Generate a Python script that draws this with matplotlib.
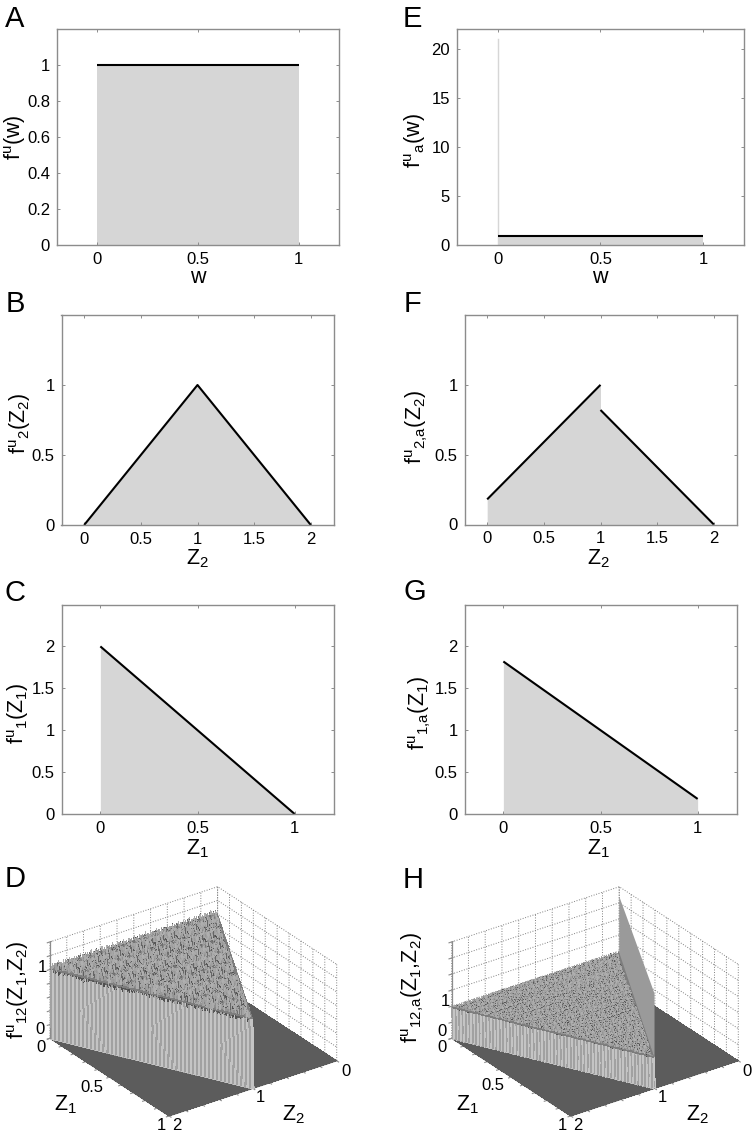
import numpy as np

import matplotlib
matplotlib.use("Agg")
import matplotlib.pyplot as plt
from mpl_toolkits.mplot3d import proj3d

plt.rcParams["font.family"] = ["Liberation Sans", "DejaVu Sans"]
plt.rcParams["mathtext.fontset"] = "custom"
plt.rcParams["mathtext.rm"] = "Liberation Sans"
plt.rcParams["mathtext.default"] = "regular"

W, H = 755, 1135
AXIS_GRAY = "#8c8c8c"
FILL_GRAY = "#d6d6d6"

# panel A / E
A_X = [0, 1]
A_Y = [1, 1]
A_YTICKS = [0, 0.2, 0.4, 0.6, 0.8, 1]
E_X = [0, 1]
E_Y = [0.95, 0.95]
E_SPIKE_X = [0, 0]
E_SPIKE_Y = [0, 21]
E_YTICKS = [0, 5, 10, 15, 20]
# panel B / F
B_X = [0, 1, 2]
B_Y = [0, 1, 0]
F_LEFT_X = [0, 1]
F_LEFT_Y = [0.18, 1]
F_RIGHT_X = [1, 2]
F_RIGHT_Y = [0.82, 0]
Z2_TICKS = [0, 0.5, 1, 1.5, 2]
B_YTICKS = [0, 0.5, 1]
# panel C / G
C_X = [0, 1]
C_Y = [2, 0]
G_X = [0, 1]
G_Y = [1.82, 0.18]
W_TICKS = [0, 0.5, 1]
C_YTICKS = [0, 0.5, 1, 1.5, 2]

# 3D panels: support of the density as an upper edge Z1(Z2)
EDGE_Z2 = [0, 1, 2]
EDGE_Z1 = [0, 1, 0]
D_LEVEL = 1.0
H_LEVEL = 0.95
# ridge of H along Z1 = Z2
RIDGE_Z1 = [0, 1]
RIDGE_Z2 = [0, 1]
RIDGE_TOP = [2.7, 2.95]
D_BUMP_SCALE = 0.7
H_BUMP_SCALE = 0.5
# bins per axis (Z1, Z2)
D_CELLS = (100, 200)
H_CELLS = (120, 240)
# the histogram noise can't be read bin by bin, so this patch of bumps
# estimated from the zoomed picture is repeated over the plateau
BUMPS = [
    [0.06, -0.09, 0.11, -0.03, -0.12, 0.08, 0.02, -0.07, 0.13, -0.05, 0.04, -0.11, 0.09],
    [-0.10, 0.03, -0.06, 0.12, 0.05, -0.08, 0.10, -0.02, -0.12, 0.07, -0.04, 0.11, -0.07],
    [0.09, -0.04, 0.07, -0.11, 0.02, 0.13, -0.09, 0.05, 0.01, -0.10, 0.12, -0.03, 0.04],
    [-0.02, 0.12, -0.08, 0.04, -0.06, -0.11, 0.07, 0.11, -0.05, 0.03, -0.09, 0.08, -0.12],
    [0.11, -0.07, 0.01, 0.09, -0.13, 0.06, -0.03, -0.10, 0.12, -0.01, 0.07, -0.06, 0.03],
    [-0.05, 0.08, -0.12, 0.02, 0.10, -0.04, 0.13, -0.07, 0.04, 0.09, -0.11, 0.02, 0.10],
    [0.03, -0.11, 0.10, -0.06, 0.07, 0.01, -0.10, 0.09, -0.08, 0.05, 0.13, -0.09, -0.02],
    [-0.08, 0.05, 0.02, 0.13, -0.09, 0.11, -0.05, 0.03, 0.08, -0.12, -0.01, 0.06, 0.11],
    [0.12, -0.01, -0.10, 0.06, -0.04, -0.07, 0.09, -0.12, 0.02, 0.10, -0.06, 0.13, -0.08],
    [-0.06, 0.10, 0.05, -0.09, 0.12, 0.03, -0.11, 0.07, -0.03, -0.08, 0.11, -0.04, 0.01],
    [0.01, -0.12, 0.08, 0.03, -0.07, 0.10, 0.05, -0.09, 0.11, 0.02, -0.10, 0.09, -0.05],
]
Z1_TICKS_3D = [0, 0.1, 0.2, 0.3, 0.4, 0.5, 0.6, 0.7, 0.8, 0.9, 1]
Z2_TICKS_3D = [0, 0.2, 0.4, 0.6, 0.8, 1, 1.2, 1.4, 1.6, 1.8, 2]
D_ZTICKS = [0, 0.2, 0.4, 0.6, 0.8, 1, 1.2, 1.4]
H_ZTICKS = [0, 0.5, 1, 1.5, 2, 2.5, 3]

FLOOR_GRAY = 0.36
PLATEAU_GRAY = 0.49
WALL_GRAYS = (0.63, 0.77)

fig = plt.figure(figsize=(W / 100, H / 100), dpi=100)


def put(x, y, s, size=11, **kw):
    kw.setdefault("ha", "center")
    kw.setdefault("va", "center")
    fig.text(x / W, 1 - y / H, s, fontsize=size, **kw)


def flat_axes(box, xlim, ylim, xticks, yticks):
    l, t, r, b = box
    ax = fig.add_axes([l / W, 1 - b / H, (r - l) / W, (b - t) / H])
    ax.set_xlim(xlim)
    ax.set_ylim(ylim)
    ax.set_xticks(xticks, [f"{v:g}" for v in xticks])
    ax.set_yticks(yticks, [f"{v:g}" for v in yticks])
    ax.tick_params(direction="in", length=2, width=0.7, color=AXIS_GRAY,
                   top=True, right=True, labelsize=12, pad=5)
    for s in ax.spines.values():
        s.set_color(AXIS_GRAY)
        s.set_linewidth(1.0)
    return ax


def black(ax, x, y):
    ax.plot(x, y, color="k", lw=1.5, solid_capstyle="butt")


def density_grid(cells, level, scale):
    z1 = np.linspace(0, 1, cells[0] + 1)
    z2 = np.linspace(0, 2, cells[1] + 1)
    zz2, zz1 = np.meshgrid(z2, z1)
    edge = np.interp(zz2, EDGE_Z2, EDGE_Z1)
    inside = zz1 <= edge + 1e-9
    bumps = np.array(BUMPS)
    n_rows, n_cols = bumps.shape
    rows, cols = np.indices(zz1.shape)
    # each repeat of the patch is set 5 columns over, brick style
    tile = bumps[rows % n_rows, (cols + 5 * (rows // n_rows)) % n_cols]
    # no bumps on the last bins before the wall, its top stays clean
    tile = np.where(edge - zz1 < 3 / cells[0], 0.0, tile)
    height = np.where(inside, level + scale * tile, 0.0)

    # cell colours: floor, striped wall in two greys, speckled plateau
    n_in = (inside[:-1, :-1].astype(int) + inside[1:, :-1] + inside[:-1, 1:] + inside[1:, 1:])
    gray = np.full(n_in.shape, FLOOR_GRAY)
    gray[n_in == 4] = PLATEAU_GRAY + 1.5 * tile[:-1, :-1][n_in == 4]
    wall = (n_in > 0) & (n_in < 4)
    gray[wall] = np.where(rows[:-1, :-1][wall] % 2 == 0, WALL_GRAYS[0], WALL_GRAYS[1])
    colors = np.dstack([gray, gray, gray, np.ones_like(gray)])
    return zz1, zz2, height, colors


def surface_axes(zz1, zz2, height, colors, zticks, corners):
    ax = fig.add_axes([0.1, 0.1, 0.5, 0.5 * W / H], projection="3d",
                      computed_zorder=False)
    ax.patch.set_visible(False)
    ax.set_proj_type("ortho")
    ax.view_init(elev=27.6, azim=54.6)
    ax.set_xlim(0, 2, view_margin=0)
    ax.set_ylim(0, 1, view_margin=0)
    ax.set_zlim(zticks[0], zticks[-1], view_margin=0)
    aspect = (1, 1, 109 / 206)
    ax.set_box_aspect(aspect, zoom=1)
    ax.plot_surface(zz2, zz1, height, rstride=1, cstride=1, facecolors=colors,
                    linewidth=0, antialiased=False, shade=False, zorder=2)
    ax.set_xticks(Z2_TICKS_3D, [""] * len(Z2_TICKS_3D))
    ax.set_yticks(Z1_TICKS_3D, [""] * len(Z1_TICKS_3D))
    ax.set_zticks(zticks, [""] * len(zticks))
    ax.tick_params(color=AXIS_GRAY, width=0.7)
    for axis in (ax.xaxis, ax.yaxis, ax.zaxis):
        axis.set_pane_color((1, 1, 1, 0))
        axis.pane.set_edgecolor("none")
        axis.line.set_color(AXIS_GRAY)
        axis.line.set_linewidth(0.9)
        axis._axinfo["grid"].update(color="0.5", linestyle=":", linewidth=0.7)

    # scale and shift the box so its floor lands on the corners in the picture
    def floor_px(z1, z2):
        x, y, _ = proj3d.proj_transform(z2, z1, 0, ax.get_proj())
        return ax.transData.transform((x, y))

    fig.canvas.draw()
    span = floor_px(1, 0)[0] - floor_px(0, 2)[0]
    ax.set_box_aspect(aspect, zoom=(corners[2] - corners[0]) / span)
    fig.canvas.draw()
    p = floor_px(0, 2)
    pos = ax.get_position()
    ax.set_position([pos.x0 + (corners[0] - p[0]) / W,
                     pos.y0 + ((H - corners[1]) - p[1]) / H,
                     pos.width, pos.height])
    return ax


# A
ax = flat_axes((57, 29, 339, 245), (-0.2, 1.2), (0, 1.2), W_TICKS, A_YTICKS)
ax.fill_between(A_X, A_Y, color=FILL_GRAY, linewidth=0)
black(ax, A_X, A_Y)
# B
ax = flat_axes((61.5, 315, 333.5, 525), (-0.2, 2.2), (0, 1.5), Z2_TICKS, B_YTICKS)
ax.fill_between(B_X, B_Y, color=FILL_GRAY, linewidth=0)
black(ax, B_X, B_Y)
# C
ax = flat_axes((61.5, 604.5, 333.5, 814), (-0.2, 1.2), (0, 2.5), W_TICKS, C_YTICKS)
ax.fill_between(C_X, C_Y, color=FILL_GRAY, linewidth=0)
black(ax, C_X, C_Y)
# E
ax = flat_axes((457, 29, 744, 245), (-0.2, 1.2), (0, 22), W_TICKS, E_YTICKS)
ax.fill_between(E_X, E_Y, color=FILL_GRAY, linewidth=0)
ax.plot(E_SPIKE_X, E_SPIKE_Y, color=FILL_GRAY, lw=1.0)
black(ax, E_X, E_Y)
# F
ax = flat_axes((464.5, 315, 736.5, 524.5), (-0.2, 2.2), (0, 1.5), Z2_TICKS, B_YTICKS)
ax.fill_between(F_LEFT_X, F_LEFT_Y, color=FILL_GRAY, linewidth=0)
ax.fill_between(F_RIGHT_X, F_RIGHT_Y, color=FILL_GRAY, linewidth=0)
black(ax, F_LEFT_X, F_LEFT_Y)
black(ax, F_RIGHT_X, F_RIGHT_Y)
# G
ax = flat_axes((464.5, 604.5, 736.5, 814), (-0.2, 1.2), (0, 2.5), W_TICKS, C_YTICKS)
ax.fill_between(G_X, G_Y, color=FILL_GRAY, linewidth=0)
black(ax, G_X, G_Y)

# D
zz1, zz2, height, colors = density_grid(D_CELLS, D_LEVEL, D_BUMP_SCALE)
surface_axes(zz1, zz2, height, colors, D_ZTICKS, (50, 1038.3, 336.7))
# H, the part of the ridge above the plateau goes on top
zz1, zz2, height, colors = density_grid(H_CELLS, H_LEVEL, H_BUMP_SCALE)
ax = surface_axes(zz1, zz2, height, colors, H_ZTICKS, (451.7, 1038.3, 738.3))
ax.plot_surface(np.array([RIDGE_Z2, RIDGE_Z2]), np.array([RIDGE_Z1, RIDGE_Z1]),
                np.array([[H_LEVEL, H_LEVEL], RIDGE_TOP]), color="#9a9a9a",
                linewidth=0, antialiased=True, shade=False, zorder=3)

for s, x, y in [("A", 15, 19), ("B", 15, 304), ("C", 15, 593), ("D", 15, 879),
                ("E", 412, 19), ("F", 412, 304), ("G", 415, 592), ("H", 413, 880)]:
    put(x, y, s, size=21)

LABEL = 15.5
put(15, 137, r"$f^{u}(w)$", size=LABEL, rotation=90)
put(20, 423, r"$f^{u}{}_{2}(Z_2)$", size=LABEL, rotation=90)
put(18, 713, r"$f^{u}{}_{1}(Z_1)$", size=LABEL, rotation=90)
put(18, 990, r"$f^{u}{}_{12}(Z_1{,}Z_2)$", size=LABEL, rotation=90)
put(415, 141, r"$f^{u}{}_{a}(w)$", size=LABEL, rotation=90)
put(417, 427, r"$f^{u}{}_{2{,}a}(Z_2)$", size=LABEL, rotation=90)
put(420, 713, r"$f^{u}{}_{1{,}a}(Z_1)$", size=LABEL, rotation=90)
put(413, 988, r"$f^{u}{}_{12{,}a}(Z_1{,}Z_2)$", size=LABEL, rotation=90)

put(198, 278, "w", size=LABEL)
put(600, 278, "w", size=LABEL)
put(197, 559, r"$Z_2$", size=LABEL)
put(598, 559, r"$Z_2$", size=LABEL)
put(197, 849, r"$Z_1$", size=LABEL)
put(598, 849, r"$Z_1$", size=LABEL)

# tick labels of the two surfaces
for s, x, y in [("0", 41, 1047), ("0.5", 92, 1087), ("1", 161, 1125), ("2", 177, 1125),
                ("1", 260, 1098), ("0", 346, 1071), ("0", 40, 1030), ("1", 42, 967),
                ("0", 442, 1047), ("0.5", 493, 1085), ("1", 562, 1125), ("2", 578, 1125),
                ("1", 662, 1097), ("0", 747, 1071), ("0", 442, 1032), ("1", 445, 1002)]:
    put(x, y, s, size=12)
put(65, 1105, r"$Z_1$", size=LABEL)
put(293, 1115, r"$Z_2$", size=LABEL)
put(467, 1105, r"$Z_1$", size=LABEL)
put(697, 1115, r"$Z_2$", size=LABEL)

fig.savefig("out.png", dpi=100, facecolor="white")
plt.close(fig)
